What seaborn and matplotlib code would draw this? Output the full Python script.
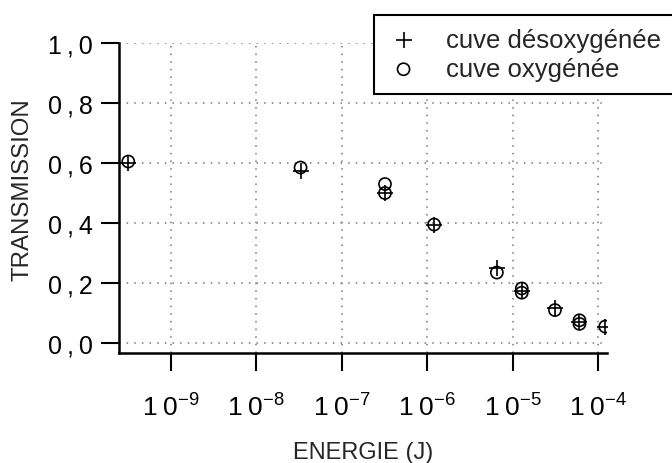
import matplotlib
matplotlib.use("Agg")
import matplotlib.pyplot as plt
import matplotlib.ticker as mticker
import seaborn as sns
import pandas as pd

# values
energie_desox = [3.2e-10, 3.3e-8, 3.2e-7, 1.2e-6, 6.5e-6, 1.27e-5, 3.1e-5, 6.0e-5, 1.2e-4]
trans_desox = [0.60, 0.575, 0.50, 0.395, 0.25, 0.175, 0.117, 0.07, 0.055]

energie_ox = [3.2e-10, 3.3e-8, 3.2e-7, 3.2e-7, 1.2e-6, 6.5e-6, 1.27e-5, 1.27e-5, 3.1e-5, 6.0e-5, 6.0e-5, 1.2e-4]
trans_ox = [0.605, 0.585, 0.53, 0.50, 0.395, 0.235, 0.182, 0.168, 0.11, 0.076, 0.064, 0.055]

x_exponents = [-9, -8, -7, -6, -5, -4]
y_ticks = [0.0, 0.2, 0.4, 0.6, 0.8, 1.0]
y_tick_labels = ["0\u2009,\u20090", "0\u2009,\u20092", "0\u2009,\u20094", "0\u2009,\u20096", "0\u2009,\u20098", "1\u2009,\u20090"]

label_desox = "cuve désoxygénée"
label_ox = "cuve oxygénée"

df_desox = pd.DataFrame({"energie": energie_desox, "transmission": trans_desox})
df_ox = pd.DataFrame({"energie": energie_ox, "transmission": trans_ox})

sns.set_style("ticks")
plt.rcParams["font.family"] = ["Liberation Sans", "DejaVu Sans"]
plt.rcParams["mathtext.fontset"] = "custom"
plt.rcParams["mathtext.rm"] = "Liberation Sans"
plt.rcParams["mathtext.it"] = "Liberation Sans"

fig = plt.figure(figsize=(6.72, 4.64), dpi=100)
ax = fig.add_axes([0.1771, 0.2371, 0.7262, 0.6681])

sns.scatterplot(data=df_desox, x="energie", y="transmission", marker="+", s=120,
                color="black", linewidth=1.2, ax=ax, label=label_desox, zorder=3)
sns.scatterplot(data=df_ox, x="energie", y="transmission", marker="o", s=76,
                facecolor="none", edgecolor="black", linewidth=1.2, ax=ax,
                label=label_ox, zorder=3)

ax.set_xscale("log")
ax.set_xlim(10 ** -9.603, 10 ** -3.9)
ax.set_ylim(-0.033, 1.0)

ax.set_xticks([10.0 ** e for e in x_exponents])
ax.set_xticklabels([r"$\mathregular{1\;0^{%d}}$" % e for e in x_exponents])
ax.xaxis.set_minor_locator(mticker.NullLocator())
ax.set_yticks(y_ticks)
ax.set_yticklabels(y_tick_labels)

ax.grid(True, which="major", linestyle=(0, (1, 4)), color="#777777", linewidth=1.1)
for side in ["top", "right"]:
    ax.spines[side].set_visible(False)
for side in ["left", "bottom"]:
    ax.spines[side].set_linewidth(1.8)
    ax.spines[side].set_color("black")

ax.tick_params(axis="both", direction="out", length=13, width=1.5, colors="black",
               labelsize=18, pad=6)
ax.tick_params(axis="x", labelsize=19, pad=16)

ax.set_xlabel("ENERGIE (J)", fontsize=17)
ax.xaxis.set_label_coords(0.5, -0.283)
ax.set_ylabel("TRANSMISSION", fontsize=17.3)
ax.yaxis.set_label_coords(-0.176, 0.53)

ax.legend_.remove()
handles, labels = ax.get_legend_handles_labels()
leg = fig.legend(handles, labels, loc="upper left", bbox_to_anchor=(374 / 672, 1 - 16 / 464),
                 frameon=True, fancybox=False, framealpha=1, edgecolor="black",
                 fontsize=18.5, borderpad=0.5, labelspacing=0.2, handletextpad=1.0,
                 handlelength=1.3, borderaxespad=0)
leg.get_frame().set_linewidth(1.5)

fig.savefig("out.png", dpi=100)
